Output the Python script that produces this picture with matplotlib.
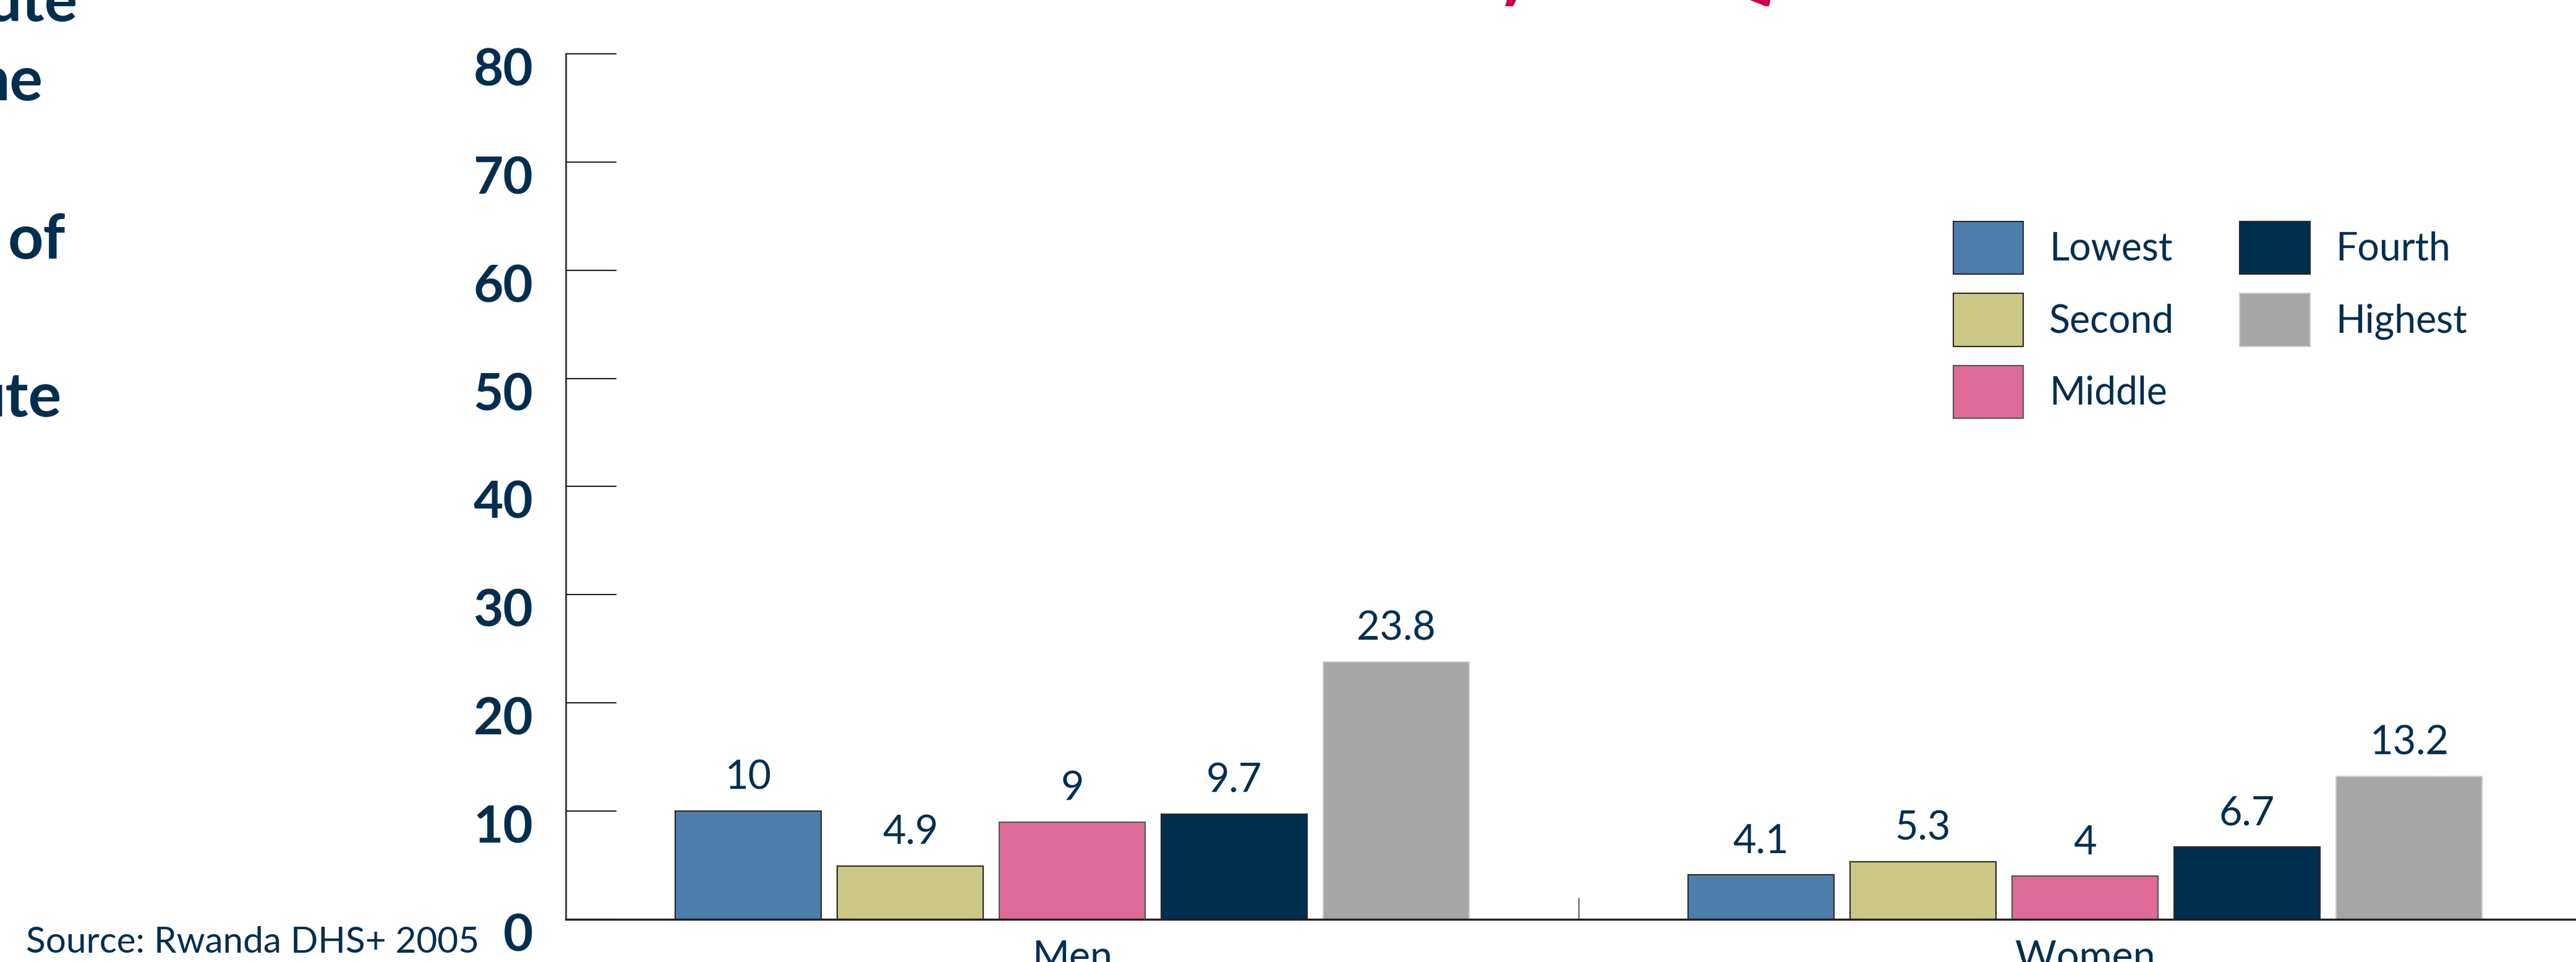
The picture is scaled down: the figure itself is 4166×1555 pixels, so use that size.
import matplotlib
matplotlib.use("Agg")
import matplotlib.pyplot as plt
import matplotlib.transforms as mtransforms
from matplotlib.patches import Polygon
import numpy as np

# values (percent)
categories = ["Men", "Women"]
quintiles = ["Lowest", "Second", "Middle", "Fourth", "Highest"]
lowest = [10, 4.1]
second = [4.9, 5.3]
middle = [9, 4]
fourth = [9.7, 6.7]
highest = [23.8, 13.2]
series = [lowest, second, middle, fourth, highest]

colors = ["#4d7dab", "#cbc885", "#de6b97", "#002e4e", "#a6a6a6"]
edges = ["#2a2a2a", "#2a2a2a", "#555555", "#2a2a2a", "#cccccc"]
navy = "#002e4f"
line_col = "#231f20"

plt.rcParams["font.family"] = ["Lato", "DejaVu Sans"]

W, H, DPI = 4166, 1555, 300
fig = plt.figure(figsize=(W / DPI, H / DPI), dpi=DPI)
fig.patch.set_facecolor("white")

# axes placed in pixel terms; right edge runs slightly past the figure
x0, x1, y_top, y_bot = 915, 4191, 87, 1486
ax = fig.add_axes([x0 / W, (H - y_bot) / H, (x1 - x0) / W, (y_bot - y_top) / H])

x = np.arange(len(categories))
pitch = 0.16
width = 0.144
for i, (name, vals) in enumerate(zip(quintiles, series)):
    pos = x + (i - 2) * pitch
    bars = ax.bar(pos, vals, width, color=colors[i], edgecolor=edges[i],
                  linewidth=0.5, label=name, zorder=2)
    for b, v in zip(bars, vals):
        ax.annotate(f"{v:g}", (b.get_x() + b.get_width() / 2, v),
                    xytext=(0, 8.5), textcoords="offset points",
                    ha="center", va="baseline", fontsize=15.5, color=navy)

ax.set_xlim(-0.5, 1.5)
ax.set_ylim(0, 80)
ax.set_yticks(range(0, 81, 10))
ax.set_xticks(x, categories)
ax.set_xticks([0.5], minor=True)

for s in ("top", "right"):
    ax.spines[s].set_visible(False)
ax.spines["left"].set_color(line_col)
ax.spines["left"].set_linewidth(0.6)
ax.spines["bottom"].set_color(line_col)
ax.spines["bottom"].set_linewidth(0.8)

ax.tick_params(axis="y", direction="in", length=19.7, width=0.5, color=line_col,
               pad=12.7, labelsize=20, labelcolor=navy)
ax.tick_params(axis="x", which="major", length=0, pad=8, labelsize=15.5,
               labelcolor=navy)
ax.tick_params(axis="x", which="minor", direction="in", length=8.4, width=0.35,
               color=line_col)

# y labels sit a little below their ticks in the original
shift = mtransforms.ScaledTranslation(0, -21 / DPI, fig.dpi_scale_trans)
for lbl in ax.get_yticklabels():
    lbl.set_fontweight("bold")
    lbl.set_transform(lbl.get_transform() + shift)

leg = ax.legend(ncol=2, loc="upper left",
                bbox_to_anchor=(3159 / W, 1 - 358 / H),
                bbox_transform=fig.transFigure, frameon=False, fontsize=15,
                handlelength=1.81, handleheight=1.72, handletextpad=0.67,
                labelspacing=0.5, columnspacing=1.7, borderpad=0,
                borderaxespad=0)
for t in leg.get_texts():
    t.set_color(navy)

fig.text(42 / W, 1 - 1540 / H, "Source: Rwanda DHS+ 2005", fontsize=14,
         color=navy, ha="left", va="baseline")

# ends of a slide title that is cut off at the left edge
fragments = [("ute", 125, 34), ("ne", 70, 162), ("of", 106, 418), ("ute", 100, 673)]
for txt, xe, yb in fragments:
    fig.text(xe / W, 1 - yb / H, txt, fontsize=24, fontweight="bold",
             color=navy, ha="right", va="baseline")

# slivers of a red heading cut off at the top edge
red = "#c9004f"
for pts in ([(2437, 0), (2452, 0), (2447, 10), (2434, 10)],
            [(2830, 0), (2863, 0), (2861, 10), (2855, 10)]):
    fig.patches.append(Polygon([(px / W, 1 - py / H) for px, py in pts],
                               closed=True, transform=fig.transFigure,
                               facecolor=red, edgecolor="none"))

fig.savefig("out.png", dpi=DPI)
